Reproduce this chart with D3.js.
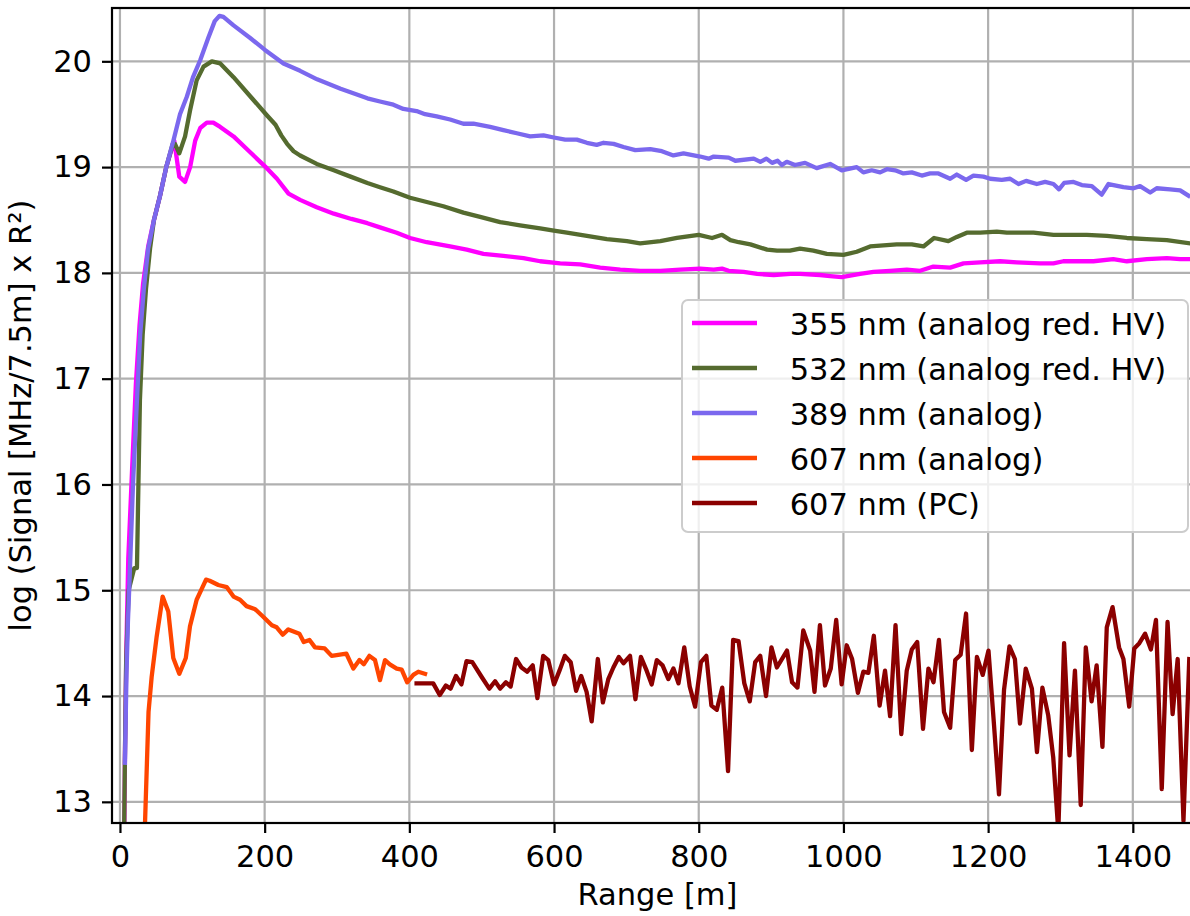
<!DOCTYPE html>
<html>
<head>
<meta charset="utf-8">
<script src="https://cdn.jsdelivr.net/npm/d3@7"></script>
<style>
  body { margin: 0; background: #fff; }
  svg { display: block; font-family: "DejaVu Sans", sans-serif; }
</style>
</head>
<body>
<svg id="chart" width="1190" height="916"></svg>
<script>
// range [m] and log signal values
const range355 = [6, 7, 9, 11.5, 16.5, 22, 27, 32, 39, 47, 55.4, 64, 75, 82, 90, 97, 104, 111, 120, 129, 138.6, 157, 180, 203, 217, 233, 249, 272, 295.6, 320, 342, 359.4, 382.5, 401, 424, 456.3, 479.3, 502.4, 530, 557.7, 580.8, 608.5, 636.2, 663.8, 691.5, 719.2, 746.9, 774.5, 802, 820.7, 832.2, 841.4, 862, 880.6, 903.7, 926.8, 940, 967.7, 981.6, 997.7, 1023, 1041.5, 1064.5, 1087.6, 1106, 1124.4, 1147.5, 1166, 1189, 1216.6, 1239.6, 1271.9, 1290.3, 1304, 1345.6, 1373, 1391.7, 1419.4, 1447, 1465.4, 1478];
const signal355 = [12.7, 13.5, 14.5, 15.3, 16.1, 16.95, 17.5, 17.9, 18.25, 18.5, 18.73, 19.0, 19.25, 18.91, 18.86, 19.0, 19.25, 19.37, 19.42, 19.42, 19.38, 19.29, 19.14, 18.99, 18.89, 18.75, 18.69, 18.62, 18.56, 18.51, 18.47, 18.43, 18.38, 18.33, 18.29, 18.25, 18.22, 18.18, 18.16, 18.14, 18.11, 18.09, 18.08, 18.05, 18.03, 18.02, 18.02, 18.03, 18.04, 18.03, 18.04, 18.02, 18.01, 17.99, 17.98, 17.99, 17.99, 17.98, 17.97, 17.96, 17.99, 18.01, 18.02, 18.03, 18.02, 18.06, 18.05, 18.09, 18.10, 18.11, 18.10, 18.09, 18.09, 18.11, 18.11, 18.13, 18.11, 18.13, 18.14, 18.13, 18.13];

const range532 = [5.5, 6.8, 8.5, 12, 19.8, 23.5, 25.5, 27.6, 31.4, 36, 41.6, 47, 55.4, 64, 73, 76, 82, 90, 97, 106, 115.5, 127, 138.6, 157, 180, 203, 215, 223, 231, 240, 249, 272, 295.6, 318.7, 342, 359.4, 377.9, 401, 424, 447, 474.7, 497.8, 525.5, 553, 580.8, 599.7, 617.7, 645.4, 673, 700.7, 719, 746.9, 769.9, 800, 818.4, 832.2, 843.7, 855.3, 871.4, 894.5, 908.3, 926, 940, 958.5, 977, 1000, 1018.4, 1036.9, 1055.3, 1073.7, 1094.5, 1110.6, 1125.3, 1145, 1156.7, 1170.5, 1189, 1212, 1225.8, 1262.7, 1290.3, 1318, 1336.4, 1364, 1391.7, 1419.4, 1447, 1478];
const signal532 = [12.5, 13.4, 14.3, 15.0, 15.21, 15.21, 16.0, 16.8, 17.42, 17.85, 18.23, 18.5, 18.73, 19.0, 19.22, 19.22, 19.13, 19.29, 19.54, 19.82, 19.95, 20.0, 19.98, 19.85, 19.67, 19.49, 19.40, 19.30, 19.22, 19.15, 19.11, 19.03, 18.97, 18.91, 18.85, 18.81, 18.77, 18.71, 18.67, 18.63, 18.57, 18.53, 18.48, 18.45, 18.42, 18.40, 18.38, 18.35, 18.32, 18.30, 18.28, 18.30, 18.33, 18.36, 18.33, 18.36, 18.31, 18.29, 18.27, 18.22, 18.21, 18.21, 18.23, 18.21, 18.18, 18.17, 18.20, 18.25, 18.26, 18.27, 18.27, 18.25, 18.33, 18.30, 18.34, 18.38, 18.38, 18.39, 18.38, 18.38, 18.36, 18.36, 18.36, 18.35, 18.33, 18.32, 18.31, 18.28];

const range389 = [6.9, 9, 11, 13, 18, 23.5, 28, 33, 39, 47, 55.4, 64, 73.9, 83, 92.4, 101, 110.9, 122, 131, 137.5, 143, 157, 180, 200, 226, 249, 272.5, 305, 342, 359.4, 377.9, 391.7, 410, 421.7, 437.8, 456.3, 474.7, 488.6, 511.6, 530, 548.5, 567, 585.4, 599.7, 615.4, 631.5, 645.4, 659, 668.5, 682.3, 696, 712.3, 733, 749, 765, 779, 802, 813.7, 820.7, 841.4, 850.6, 876, 885.2, 893.5, 901.4, 909, 915, 921.7, 933, 947, 963, 981.6, 997.7, 1018.4, 1027.6, 1039, 1050.7, 1060, 1071.4, 1083, 1094.5, 1108.3, 1119.8, 1131.3, 1147.5, 1156.7, 1169.6, 1179.7, 1193.5, 1202.8, 1218.9, 1230.4, 1242, 1252.5, 1267.3, 1278.8, 1290.3, 1298, 1305, 1318, 1329.5, 1343.3, 1357, 1366.4, 1387, 1400.9, 1410, 1424, 1433, 1451.6, 1465.4, 1477];
const signal389 = [13.37, 14.2, 14.7, 15.05, 16.0, 16.8, 17.42, 17.85, 18.23, 18.5, 18.73, 19.0, 19.25, 19.5, 19.665, 19.85, 20.01, 20.22, 20.38, 20.43, 20.42, 20.34, 20.22, 20.11, 19.98, 19.91, 19.83, 19.74, 19.65, 19.62, 19.59, 19.55, 19.53, 19.50, 19.48, 19.45, 19.41, 19.41, 19.38, 19.35, 19.32, 19.29, 19.30, 19.28, 19.26, 19.26, 19.23, 19.21, 19.23, 19.22, 19.19, 19.16, 19.17, 19.15, 19.11, 19.13, 19.10, 19.08, 19.10, 19.09, 19.06, 19.08, 19.05, 19.08, 19.04, 19.06, 19.02, 19.05, 19.02, 19.04, 18.99, 19.03, 18.97, 19.0, 18.95, 18.97, 18.95, 18.98, 18.97, 18.94, 18.95, 18.92, 18.94, 18.94, 18.89, 18.93, 18.88, 18.92, 18.91, 18.89, 18.88, 18.89, 18.84, 18.87, 18.84, 18.86, 18.84, 18.79, 18.85, 18.86, 18.83, 18.82, 18.74, 18.84, 18.81, 18.80, 18.82, 18.76, 18.80, 18.79, 18.78, 18.73];

const range607a = [33.5, 34.6, 39.5, 43.8, 50.7, 59, 66.8, 73.7, 82, 91, 96.8, 106, 119, 124, 136, 147.5, 157, 166, 175, 187, 198, 210, 216.6, 225, 232.7, 248, 254, 262, 269.6, 283, 292.6, 313, 322.6, 331, 337, 344.7, 352.5, 359.4, 366.4, 373, 382.5, 389.4, 397, 405.5, 412.4, 421.7];
const signal607a = [12.5, 12.79, 13.85, 14.18, 14.56, 14.94, 14.80, 14.36, 14.21, 14.36, 14.66, 14.91, 15.10, 15.09, 15.05, 15.03, 14.94, 14.91, 14.85, 14.82, 14.75, 14.67, 14.65, 14.58, 14.63, 14.59, 14.51, 14.53, 14.46, 14.45, 14.38, 14.40, 14.26, 14.34, 14.30, 14.38, 14.34, 14.15, 14.34, 14.30, 14.26, 14.25, 14.13, 14.20, 14.23, 14.21];

const range607pc = [410, 433, 442, 450.5, 457, 464.5, 472, 479, 487, 500, 510.5, 518.5, 525.5, 533.5, 540, 547.5, 555, 563, 570.5, 577, 585, 592, 600, 607.5, 615, 623, 630.5, 637.5, 645, 652, 660.5, 667.5, 675, 682, 689.5, 696, 705, 712.5, 720, 728, 735, 742, 750, 758, 765, 772, 780, 787.5, 795, 803, 810.5, 817.5, 825, 832.5, 840.5, 847.5, 855, 863, 870.5, 878, 885, 893, 900.5, 908, 922, 929, 936.5, 944.5, 954, 960, 967.5, 974.5, 982.5, 990, 997.5, 1004.5, 1012, 1020, 1027.5, 1034.5, 1042, 1050, 1057.5, 1064.5, 1072, 1080, 1087.5, 1094.5, 1102, 1110, 1117.5, 1124.5, 1132, 1139, 1147.5, 1154.5, 1162, 1169.5, 1177.5, 1184.5, 1192.5, 1200.5, 1208, 1215, 1222, 1229.5, 1237, 1244, 1252, 1260.5, 1267.5, 1275, 1283, 1290, 1297, 1305, 1312.5, 1320, 1328, 1335, 1343, 1350, 1358, 1364, 1372, 1381, 1387, 1395, 1402, 1409, 1417, 1425, 1432, 1440, 1448, 1455, 1462, 1470, 1478];
const signal607pc = [14.12, 14.12, 14.01, 14.10, 14.07, 14.19, 14.11, 14.33, 14.32, 14.18, 14.07, 14.14, 14.07, 14.13, 14.09, 14.35, 14.27, 14.23, 14.29, 13.98, 14.38, 14.34, 14.11, 14.24, 14.38, 14.32, 14.05, 14.19, 14.04, 13.76, 14.35, 13.94, 14.16, 14.27, 14.37, 14.31, 14.38, 13.97, 14.37, 14.24, 14.11, 14.34, 14.29, 14.16, 14.26, 14.12, 14.46, 14.09, 13.90, 14.32, 14.38, 13.91, 13.87, 14.08, 13.29, 14.53, 14.52, 14.12, 13.95, 14.32, 14.38, 14.00, 14.46, 14.27, 14.43, 14.13, 14.08, 14.62, 14.43, 14.04, 14.67, 14.10, 14.26, 14.72, 14.11, 14.48, 14.35, 14.03, 14.23, 14.22, 14.57, 13.91, 14.24, 13.81, 14.67, 13.64, 14.24, 14.44, 14.51, 13.69, 14.26, 14.13, 14.53, 13.85, 13.70, 14.34, 14.39, 14.78, 13.49, 14.37, 14.20, 14.43, 13.74, 13.07, 14.06, 14.47, 14.35, 13.74, 14.26, 14.07, 13.47, 14.08, 13.82, 13.42, 12.72, 14.50, 13.44, 14.24, 12.97, 14.46, 13.95, 14.29, 13.52, 14.65, 14.84, 14.46, 14.35, 13.90, 14.45, 14.50, 14.59, 14.44, 14.72, 13.12, 14.70, 13.83, 14.35, 12.82, 14.35];

const seriesNames = [" 355 nm (analog red. HV)", " 532 nm (analog red. HV)", " 389 nm (analog)", " 607 nm (analog)", " 607 nm (PC)"];
const seriesColors = ["#ff00ff", "#556b2f", "#7b68ee", "#ff4500", "#8b0000"];
const xTicks = [0, 200, 400, 600, 800, 1000, 1200, 1400];
const yTicks = [13, 14, 15, 16, 17, 18, 19, 20];

const series = [
  [range355, signal355],
  [range532, signal532],
  [range389, signal389],
  [range607a, signal607a],
  [range607pc, signal607pc]
].map(([xs, ys], i) => ({
  name: seriesNames[i],
  color: seriesColors[i],
  points: xs.map((x, j) => [x, ys[j]])
}));

const plotLeft = 112, plotRight = 1203, plotTop = 8, plotBottom = 823;
const x = d3.scaleLinear().domain([-11, 1497]).range([plotLeft, plotRight]);
const y = d3.scaleLinear().domain([12.8, 20.504]).range([plotBottom, plotTop]);

const svg = d3.select("#chart");
const fontSize = 30.5;

svg.append("defs").append("clipPath").attr("id", "plot-clip")
  .append("rect")
  .attr("x", plotLeft).attr("y", plotTop)
  .attr("width", plotRight - plotLeft).attr("height", plotBottom - plotTop);

// grid
const grid = svg.append("g").attr("stroke", "#b0b0b0").attr("stroke-width", 2.2);
grid.selectAll(".gx").data(xTicks).enter().append("line")
  .attr("x1", d => x(d)).attr("x2", d => x(d))
  .attr("y1", plotTop).attr("y2", plotBottom);
grid.selectAll(".gy").data(yTicks).enter().append("line")
  .attr("y1", d => y(d)).attr("y2", d => y(d))
  .attr("x1", plotLeft).attr("x2", plotRight);

// lines
const line = d3.line().x(d => x(d[0])).y(d => y(d[1]));
svg.append("g").attr("clip-path", "url(#plot-clip)")
  .selectAll("path").data(series).enter().append("path")
  .attr("d", d => line(d.points))
  .attr("fill", "none")
  .attr("stroke", d => d.color)
  .attr("stroke-width", 4.3)
  .attr("stroke-linejoin", "round")
  .attr("stroke-linecap", "square");

// axes
const xAxis = svg.append("g").attr("transform", `translate(0,${plotBottom})`)
  .call(d3.axisBottom(x).tickValues(xTicks).tickFormat(d3.format("d"))
    .tickSize(10).tickPadding(12).tickSizeOuter(0));
const yAxis = svg.append("g").attr("transform", `translate(${plotLeft},0)`)
  .call(d3.axisLeft(y).tickValues(yTicks).tickFormat(d3.format("d"))
    .tickSize(10).tickPadding(10).tickSizeOuter(0));
[xAxis, yAxis].forEach(a => {
  a.select(".domain").remove();
  a.selectAll(".tick line").attr("stroke", "#000").attr("stroke-width", 2.2);
  a.selectAll(".tick text").attr("fill", "#000")
    .style("font-size", fontSize + "px").style("font-family", "DejaVu Sans");
});

// frame
svg.append("rect")
  .attr("x", plotLeft).attr("y", plotTop)
  .attr("width", plotRight - plotLeft).attr("height", plotBottom - plotTop)
  .attr("fill", "none").attr("stroke", "#000").attr("stroke-width", 2.2);

// axis labels
svg.append("text")
  .attr("x", (plotLeft + plotRight) / 2).attr("y", 905)
  .attr("text-anchor", "middle")
  .style("font-size", fontSize + "px")
  .text("Range [m]");
svg.append("text")
  .attr("transform", `translate(31,${(plotTop + plotBottom) / 2}) rotate(-90)`)
  .attr("text-anchor", "middle")
  .style("font-size", fontSize + "px")
  .text("log (Signal [MHz/7.5m] x R²)");

// legend
const legend = svg.append("g").attr("transform", "translate(682,300)");
legend.append("rect")
  .attr("width", 506).attr("height", 232).attr("rx", 6)
  .attr("fill", "#fff").attr("fill-opacity", 0.8)
  .attr("stroke", "#cccccc").attr("stroke-width", 2);
const item = legend.selectAll(".item").data(series).enter().append("g")
  .attr("transform", (d, i) => `translate(0,${23 + i * 45})`);
item.append("line")
  .attr("x1", 10).attr("x2", 75)
  .attr("stroke", d => d.color).attr("stroke-width", 4.3);
item.append("text")
  .attr("x", 98).attr("y", 12)
  .style("font-size", fontSize + "px")
  .style("white-space", "pre")
  .attr("xml:space", "preserve")
  .text(d => d.name);
</script>
</body>
</html>
